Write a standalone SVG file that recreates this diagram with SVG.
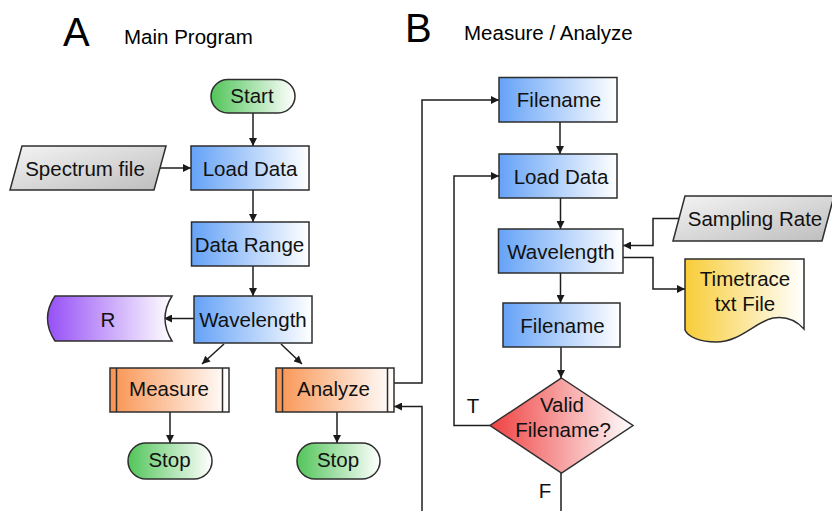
<svg xmlns="http://www.w3.org/2000/svg" width="832" height="511" viewBox="0 0 832 511">
<defs>
<linearGradient id="gBlue" x1="0" y1="0" x2="1" y2="0"><stop offset="0" stop-color="#65a2f7"/><stop offset="1" stop-color="#ffffff"/></linearGradient>
<linearGradient id="gGreen" x1="0" y1="0" x2="1" y2="0"><stop offset="0" stop-color="#52c55a"/><stop offset="1" stop-color="#ffffff"/></linearGradient>
<linearGradient id="gOrange" x1="0" y1="0" x2="1" y2="0"><stop offset="0" stop-color="#f99350"/><stop offset="1" stop-color="#ffffff"/></linearGradient>
<linearGradient id="gPurple" x1="0" y1="0" x2="1" y2="0"><stop offset="0" stop-color="#9650f6"/><stop offset="1" stop-color="#ffffff"/></linearGradient>
<linearGradient id="gYellow" x1="0" y1="0" x2="1" y2="0"><stop offset="0" stop-color="#f8cd38"/><stop offset="1" stop-color="#ffffff"/></linearGradient>
<linearGradient id="gRed" x1="0" y1="0" x2="1" y2="0"><stop offset="0" stop-color="#ef4141"/><stop offset="1" stop-color="#ffffff"/></linearGradient>
<linearGradient id="gGrey" x1="0" y1="0" x2="1" y2="1"><stop offset="0" stop-color="#f4f4f4"/><stop offset="1" stop-color="#bdbdbd"/></linearGradient>
<marker id="arr" viewBox="0 0 10 10" refX="10" refY="5" markerWidth="9" markerHeight="8" markerUnits="userSpaceOnUse" orient="auto"><path d="M0,0 L10,5 L0,10 Z" fill="#1a1a1a"/></marker>
</defs>
<style>
.s{stroke:#2e2e2e;stroke-width:1.5}
.t{font-family:"Liberation Sans",Arial,sans-serif;font-size:20.5px;fill:#111;text-anchor:middle}
.h{font-family:"Liberation Sans",Arial,sans-serif;fill:#000}
.c{fill:none;stroke:#1e1e1e;stroke-width:1.5}
</style>
<text class="h" x="63" y="46" font-size="40">A</text>
<text class="h" x="124" y="44" font-size="20.5">Main Program</text>
<text class="h" x="405" y="42" font-size="40">B</text>
<text class="h" x="464" y="40" font-size="20.5">Measure / Analyze</text>

<g id="connectors">
<path class="c" d="M253,113 V146" marker-end="url(#arr)"/>
<path class="c" d="M160,168 H191" marker-end="url(#arr)"/>
<path class="c" d="M253,190 V222" marker-end="url(#arr)"/>
<path class="c" d="M253,266 V296" marker-end="url(#arr)"/>
<path class="c" d="M194,318.5 H164" marker-end="url(#arr)"/>
<path class="c" d="M224,344 L202,364" marker-end="url(#arr)"/>
<path class="c" d="M281,344 L302,364" marker-end="url(#arr)"/>
<path class="c" d="M170,412 V443" marker-end="url(#arr)"/>
<path class="c" d="M337,412 V443" marker-end="url(#arr)"/>
<path class="c" d="M394,383 H422 V100 H499" marker-end="url(#arr)"/>
<path class="c" d="M422,511 V406.5 H394" marker-end="url(#arr)"/>
<path class="c" d="M560,122 V154" marker-end="url(#arr)"/>
<path class="c" d="M560.5,198 V229" marker-end="url(#arr)"/>
<path class="c" d="M560.5,273 V303" marker-end="url(#arr)"/>
<path class="c" d="M561,347 V378" marker-end="url(#arr)"/>
<path class="c" d="M679,218.5 H653 V245.5 H623" marker-end="url(#arr)"/>
<path class="c" d="M623,257.5 H653 V289 H685" marker-end="url(#arr)"/>
<path class="c" d="M490,425.5 H454 V176 H499" marker-end="url(#arr)"/>
<path class="c" d="M561,473 V511"/>
<text class="t" x="473" y="412.5">T</text>
<text class="t" x="545" y="498">F</text>
</g>

<g id="start"><rect class="s" x="211" y="79.5" width="84" height="33.5" rx="16.75" fill="url(#gGreen)"/><text class="t" x="252" y="103">Start</text></g>
<g id="spectrum"><path class="s" d="M22,146 H166 L154,190 H10 Z" fill="url(#gGrey)"/><text class="t" x="85" y="175.5">Spectrum file</text></g>
<g id="loaddataA"><rect class="s" x="191" y="146" width="118" height="44" fill="url(#gBlue)"/><text class="t" x="250" y="175.5">Load Data</text></g>
<g id="datarange"><rect class="s" x="191.5" y="222" width="117.5" height="44" fill="url(#gBlue)"/><text class="t" x="249.5" y="251.5">Data Range</text></g>
<g id="wavelengthA"><rect class="s" x="194" y="296" width="118" height="47" fill="url(#gBlue)"/><text class="t" x="253" y="326.5">Wavelength</text></g>
<g id="r"><path class="s" d="M55,296 H172 Q158,318.5 172,341 H55 Q40,318.5 55,296 Z" fill="url(#gPurple)"/><text class="t" x="108" y="326.5">R</text></g>
<g id="measure"><rect class="s" x="110" y="368" width="119" height="44" fill="url(#gOrange)"/><path class="s" d="M116.5,368 V412 M222.5,368 V412" fill="none"/><text class="t" x="169" y="396">Measure</text></g>
<g id="analyze"><rect class="s" x="276" y="368" width="118" height="44" fill="url(#gOrange)"/><path class="s" d="M282.5,368 V412 M387.5,368 V412" fill="none"/><text class="t" x="333.5" y="396">Analyze</text></g>
<g id="stop1"><rect class="s" x="128" y="443" width="84" height="36" rx="18" fill="url(#gGreen)"/><text class="t" x="169.5" y="467">Stop</text></g>
<g id="stop2"><rect class="s" x="297" y="443" width="83" height="36" rx="18" fill="url(#gGreen)"/><text class="t" x="338" y="467">Stop</text></g>

<g id="filename1"><rect class="s" x="499" y="77.5" width="118" height="44.5" fill="url(#gBlue)"/><text class="t" x="559" y="107">Filename</text></g>
<g id="loaddataB"><rect class="s" x="499" y="154" width="118" height="44" fill="url(#gBlue)"/><text class="t" x="561" y="183.5">Load Data</text></g>
<g id="wavelengthB"><rect class="s" x="498.5" y="229" width="124.5" height="44" fill="url(#gBlue)"/><text class="t" x="561" y="258.5">Wavelength</text></g>
<g id="samplingrate"><path class="s" d="M685,196 H834 L822,241 H673 Z" fill="url(#gGrey)"/><text class="t" x="755" y="225.5">Sampling Rate</text></g>
<g id="timetrace"><path class="s" d="M685,259 H804 V329 C795,319 785,316 773,318 C755,322 740,342 716,342 C700,342 688,337 685,330 Z" fill="url(#gYellow)"/><text class="t" x="745" y="286">Timetrace</text><text class="t" x="745" y="311">txt File</text></g>
<g id="filename2"><rect class="s" x="503" y="303" width="117" height="44" fill="url(#gBlue)"/><text class="t" x="562.5" y="332.5">Filename</text></g>
<g id="valid"><path class="s" d="M561.5,378 L633,425.5 L561.5,473 L490,425.5 Z" fill="url(#gRed)"/><text class="t" x="562" y="412">Valid</text><text class="t" x="563" y="437">Filename?</text></g>
</svg>
